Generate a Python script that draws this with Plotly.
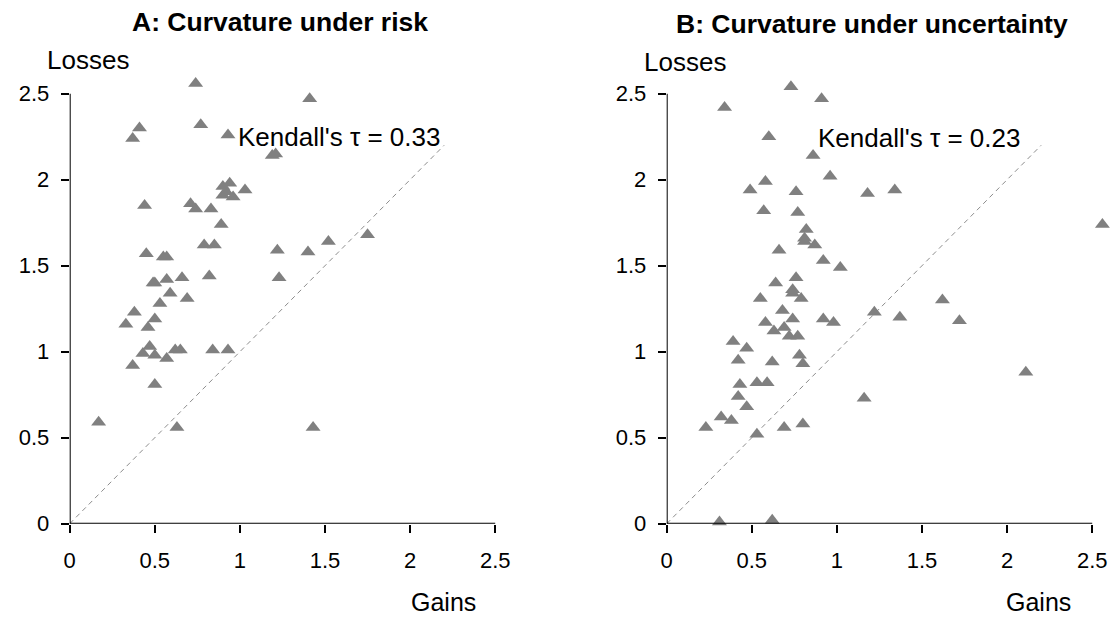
import plotly.graph_objects as go

W, H = 1111, 617

# Panel A: Curvature under risk (gains, losses)
risk_gains = [0.74, 0.41, 0.37, 0.77, 0.93, 1.19, 1.21, 1.41, 0.94, 0.90, 0.90, 0.96, 1.03, 0.92,
              0.44, 0.71, 0.74, 0.83, 0.89, 0.79, 0.85, 1.22, 0.45, 0.55, 0.57, 1.40, 1.52, 1.75,
              0.49, 0.50, 0.57, 0.66, 0.82, 1.23, 0.59, 0.69, 0.53, 0.38, 0.50, 0.33, 0.46, 0.47,
              0.43, 0.50, 0.57, 0.62, 0.65, 0.84, 0.93, 0.37, 0.50, 0.17, 0.63, 1.43]
risk_losses = [2.56, 2.30, 2.24, 2.32, 2.26, 2.14, 2.15, 2.47, 1.98, 1.96, 1.91, 1.90, 1.94, 1.93,
               1.85, 1.86, 1.83, 1.83, 1.74, 1.62, 1.62, 1.59, 1.57, 1.55, 1.55, 1.58, 1.64, 1.68,
               1.40, 1.40, 1.42, 1.43, 1.44, 1.43, 1.34, 1.31, 1.28, 1.23, 1.19, 1.16, 1.14, 1.03,
               0.99, 0.98, 0.96, 1.01, 1.01, 1.01, 1.01, 0.92, 0.81, 0.59, 0.56, 0.56]

# Panel B: Curvature under uncertainty (gains, losses)
unc_gains = [0.73, 0.91, 0.34, 0.60, 0.86, 0.58, 0.49, 0.76, 0.96, 1.18, 1.34, 2.56, 0.57, 0.77,
             0.82, 0.81, 0.81, 0.87, 0.66, 0.92, 1.02, 0.64, 0.76, 0.74, 0.74, 0.55, 0.79, 0.68,
             0.74, 0.58, 0.92, 0.98, 0.69, 0.63, 0.72, 0.77, 1.22, 1.62, 1.37, 1.72, 0.39, 0.47,
             0.42, 0.62, 0.78, 0.80, 0.43, 0.53, 0.59, 0.42, 0.47, 0.32, 0.38, 0.23, 0.69, 0.80,
             0.53, 1.16, 2.11, 0.31, 0.62]
unc_losses = [2.54, 2.47, 2.42, 2.25, 2.14, 1.99, 1.94, 1.93, 2.02, 1.92, 1.94, 1.74, 1.82, 1.81,
              1.71, 1.66, 1.64, 1.62, 1.59, 1.53, 1.49, 1.40, 1.43, 1.36, 1.34, 1.31, 1.31, 1.24,
              1.19, 1.17, 1.19, 1.17, 1.14, 1.12, 1.09, 1.09, 1.23, 1.30, 1.20, 1.18, 1.06, 1.02,
              0.95, 0.94, 0.98, 0.93, 0.81, 0.82, 0.82, 0.74, 0.68, 0.62, 0.60, 0.56, 0.56, 0.58,
              0.52, 0.73, 0.88, 0.01, 0.02]

diag = [0, 2.2]
tick_vals = [0, 0.5, 1, 1.5, 2, 2.5]
tick_text = ["0", "0.5", "1", "1.5", "2", "2.5"]
axis_max = 2.5      # axis lines stop at the last tick
view_max = 2.62     # data range shown (some points run past the last tick)

titles = ["A: Curvature under risk", "B: Curvature under uncertainty"]
kendall = ["Kendall's \u03c4 = 0.33", "Kendall's \u03c4 = 0.23"]

FONT = "Liberation Sans, Arial, sans-serif"
GRAY = "#808080"

fig = go.Figure()

for i, (gx, ly) in enumerate([(risk_gains, risk_losses), (unc_gains, unc_losses)]):
    xa = "x" if i == 0 else "x2"
    ya = "y" if i == 0 else "y2"
    fig.add_trace(go.Scatter(x=diag, y=diag, mode="lines", xaxis=xa, yaxis=ya,
                             line=dict(color="#8c8c8c", width=1, dash="5px,4px"),
                             hoverinfo="skip", showlegend=False))
    fig.add_trace(go.Scatter(x=gx, y=ly, mode="markers", xaxis=xa, yaxis=ya,
                             marker=dict(symbol="triangle-up", size=13, color=GRAY,
                                         line=dict(width=0)),
                             cliponaxis=False, showlegend=False))

def px2paper(px, py):
    return px / W, 1 - py / H

common = dict(tickvals=tick_vals, ticktext=tick_text, automargin=False,
              range=[0, view_max], showline=False,
              showgrid=False, zeroline=False,
              ticks="outside", ticklen=8, tickwidth=1.5,
              tickcolor="black", tickfont=dict(family=FONT, size=22, color="black"))

sx, sy = 170.2, 172.0  # px per unit
x0A, x0B, y0 = 69.7, 666.7, 523.7
xdomA = [x0A / W, (x0A + view_max * sx) / W]
xdomB = [x0B / W, min(1.0, (x0B + view_max * sx) / W)]
ydom = [1 - y0 / H, 1 - (y0 - view_max * sy) / H]
xmaxB = (xdomB[1] * W - x0B) / sx

fig.update_layout(
    width=W, height=H, margin=dict(l=0, r=0, t=0, b=0, autoexpand=False),
    paper_bgcolor="white", plot_bgcolor="white",
    xaxis=dict(domain=xdomA, anchor="y", ticklabelstandoff=9, **common),
    yaxis=dict(domain=ydom, anchor="x", ticklabelstandoff=7, **common),
    xaxis2=dict(domain=xdomB, anchor="y2", ticklabelstandoff=9, **common),
    yaxis2=dict(domain=ydom, anchor="x2", ticklabelstandoff=7, **common),
)
fig.update_xaxes(range=[0, xmaxB], selector=dict(anchor="y2"))

axis_line = dict(color="black", width=2)
shapes = []
for xr, yr in [("x", "y"), ("x2", "y2")]:
    shapes.append(dict(type="line", xref=xr, yref=yr, x0=0, x1=axis_max, y0=0, y1=0,
                       line=axis_line, layer="above"))
    shapes.append(dict(type="line", xref=xr, yref=yr, x0=0, x1=0, y0=0, y1=axis_max,
                       line=axis_line, layer="above"))
fig.update_layout(shapes=shapes)

annots = []
for cx, cy, t in [(280, 22, titles[0]), (872, 24, titles[1])]:
    x, y = px2paper(cx, cy)
    annots.append(dict(x=x, y=y, xref="paper", yref="paper", text="<b>" + t + "</b>",
                       showarrow=False, xanchor="center", yanchor="middle",
                       font=dict(family=FONT, size=26.5, color="black")))
for lx, ly in [(45, 60), (642, 62)]:
    x, y = px2paper(lx, ly)
    annots.append(dict(x=x, y=y, xref="paper", yref="paper", text="Losses",
                       showarrow=False, xanchor="left", yanchor="middle",
                       font=dict(family=FONT, size=26, color="black")))
for gx_, gy_ in [(443, 602), (1038, 602)]:
    x, y = px2paper(gx_, gy_)
    annots.append(dict(x=x, y=y, xref="paper", yref="paper", text="Gains",
                       showarrow=False, xanchor="center", yanchor="middle",
                       font=dict(family=FONT, size=25, color="black")))
for (ax, ay, xr, yr, t) in [(2.19, 2.25, "x", "y", kendall[0]), (2.085, 2.24, "x2", "y2", kendall[1])]:
    annots.append(dict(x=ax, y=ay, xref=xr, yref=yr, text=t, showarrow=False,
                       xanchor="right", yanchor="middle",
                       font=dict(family=FONT, size=26, color="black")))
fig.update_layout(annotations=annots)

fig.write_html("out.html")
